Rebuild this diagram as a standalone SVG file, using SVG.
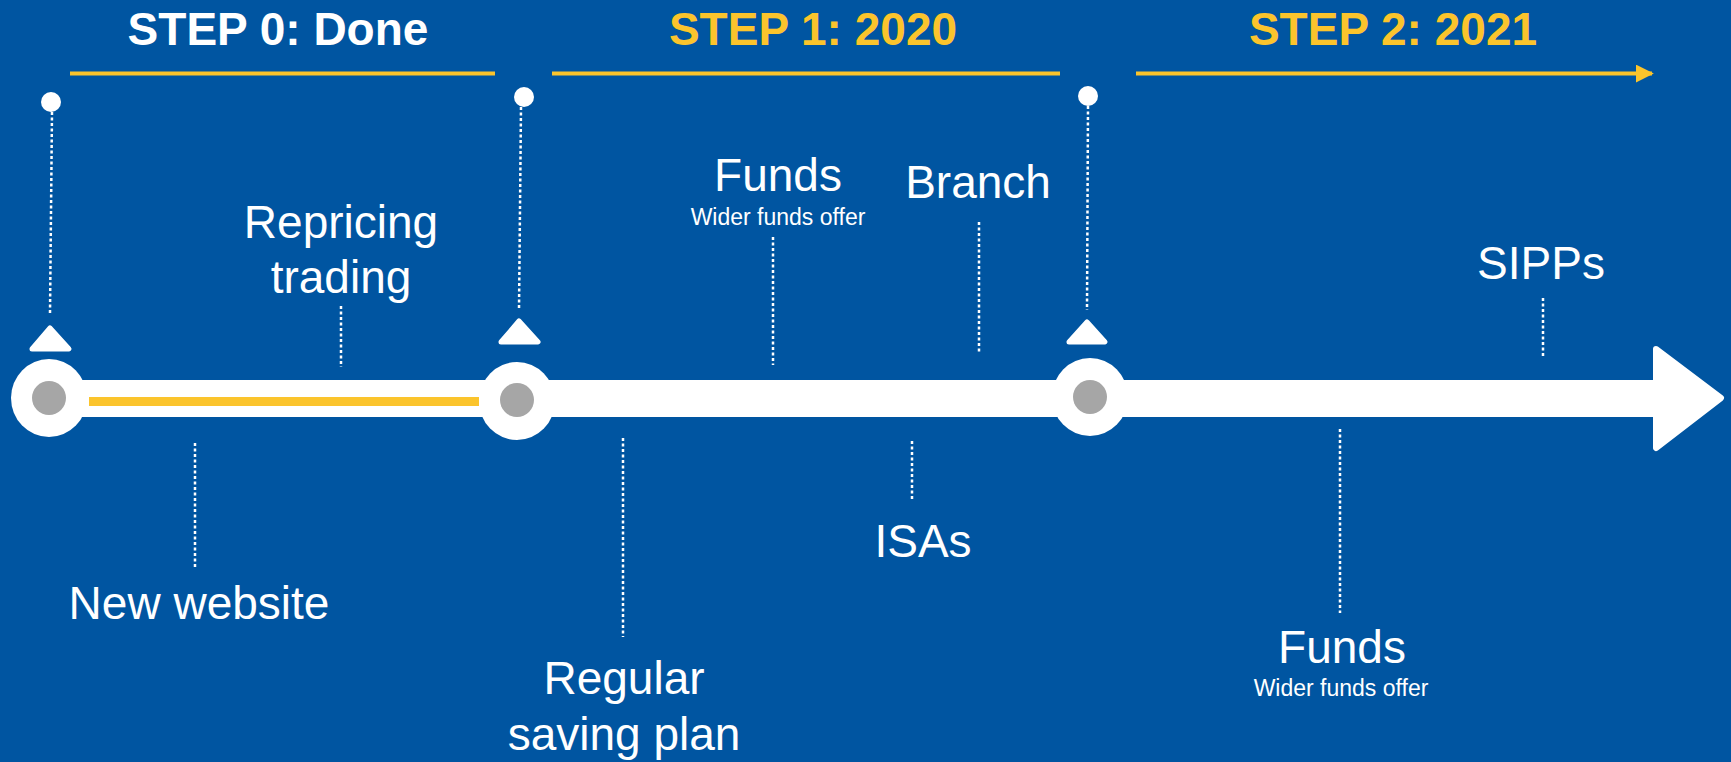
<svg xmlns="http://www.w3.org/2000/svg" width="1731" height="762" viewBox="0 0 1731 762">
<defs>
<style>
.lbl{font-family:"Liberation Sans",Arial,sans-serif;fill:#fff;font-size:46px;text-anchor:middle}
.sub{font-family:"Liberation Sans",Arial,sans-serif;fill:#fff;font-size:23px;text-anchor:middle}
.step{font-family:"Liberation Sans",Arial,sans-serif;font-weight:bold;font-size:46px;text-anchor:middle}
.dot{stroke:#fff;stroke-width:2.5;stroke-dasharray:3 2.5;fill:none}
.pin{fill:#fff}
.tri{fill:#fff;stroke:#fff;stroke-width:5;stroke-linejoin:round}
.yl{stroke:#FBC42C;stroke-width:4}
</style>
<marker id="ah" viewBox="0 0 10 10" refX="9" refY="5" markerWidth="4.5" markerHeight="4.5" orient="auto"><path d="M0,0 L10,5 L0,10 z" fill="#FBC42C"/></marker>
</defs>
<rect width="1731" height="762" fill="#0055A1"/>

<g id="headers">
<text class="step" x="278" y="45" fill="#fff">STEP 0: Done</text>
<text class="step" x="813" y="45" fill="#FBC42C">STEP 1: 2020</text>
<text class="step" x="1393" y="45" fill="#FBC42C">STEP 2: 2021</text>
<line class="yl" x1="70" y1="73.5" x2="495" y2="73.5"/>
<line class="yl" x1="552" y1="73.5" x2="1060" y2="73.5"/>
<line class="yl" x1="1136" y1="73.5" x2="1652" y2="73.5" marker-end="url(#ah)"/>
</g>

<g id="timeline">
<rect x="60" y="380" width="1600" height="37" fill="#fff"/>
<path d="M1656,349 L1721,398 L1656,448 Z" fill="#fff" stroke="#fff" stroke-width="6" stroke-linejoin="round"/>
<rect x="89" y="397" width="390" height="9" fill="#FBC42C"/>
</g>

<g id="milestone0">
<circle class="pin" cx="51" cy="102" r="10"/>
<line class="dot" x1="52" y1="112" x2="50" y2="313"/>
<path class="tri" d="M50,328 L69,349 L32,349 Z"/>
<ellipse cx="49" cy="398" rx="38" ry="39" fill="#fff"/>
<circle cx="49" cy="398" r="17" fill="#A6A6A6"/>
</g>

<g id="milestone1">
<circle class="pin" cx="524" cy="97" r="10"/>
<line class="dot" x1="521" y1="107" x2="519" y2="310"/>
<path class="tri" d="M519,321 L538,342 L501,342 Z"/>
<ellipse cx="517" cy="401" rx="38" ry="39" fill="#fff"/>
<circle cx="517" cy="400" r="17" fill="#A6A6A6"/>
</g>

<g id="milestone2">
<circle class="pin" cx="1088" cy="96" r="10"/>
<line class="dot" x1="1088" y1="106" x2="1087" y2="310"/>
<path class="tri" d="M1087,322 L1105,342 L1069,342 Z"/>
<ellipse cx="1090" cy="397" rx="38" ry="39" fill="#fff"/>
<circle cx="1090" cy="397" r="17" fill="#A6A6A6"/>
</g>

<g id="connectors">
<line class="dot" x1="341" y1="306" x2="341" y2="367"/>
<line class="dot" x1="773" y1="237" x2="773" y2="365"/>
<line class="dot" x1="979" y1="222" x2="979" y2="352"/>
<line class="dot" x1="1543" y1="298" x2="1543" y2="358"/>
<line class="dot" x1="195" y1="443" x2="195" y2="568"/>
<line class="dot" x1="623" y1="438" x2="623" y2="637"/>
<line class="dot" x1="912" y1="441" x2="912" y2="501"/>
<line class="dot" x1="1340" y1="429" x2="1340" y2="613"/>
</g>

<g id="repricing"><text class="lbl" x="341" y="238">Repricing</text><text class="lbl" x="341" y="293">trading</text></g>
<g id="funds1"><text class="lbl" x="778" y="191">Funds</text><text class="sub" x="778" y="225">Wider funds offer</text></g>
<g id="branch"><text class="lbl" x="978" y="198">Branch</text></g>
<g id="sipps"><text class="lbl" x="1541" y="279">SIPPs</text></g>
<g id="newwebsite"><text class="lbl" x="199" y="619">New website</text></g>
<g id="regular"><text class="lbl" x="624" y="694">Regular</text><text class="lbl" x="624" y="750">saving plan</text></g>
<g id="isas"><text class="lbl" x="923" y="557">ISAs</text></g>
<g id="funds2"><text class="lbl" x="1342" y="663">Funds</text><text class="sub" x="1341" y="696">Wider funds offer</text></g>
</svg>
